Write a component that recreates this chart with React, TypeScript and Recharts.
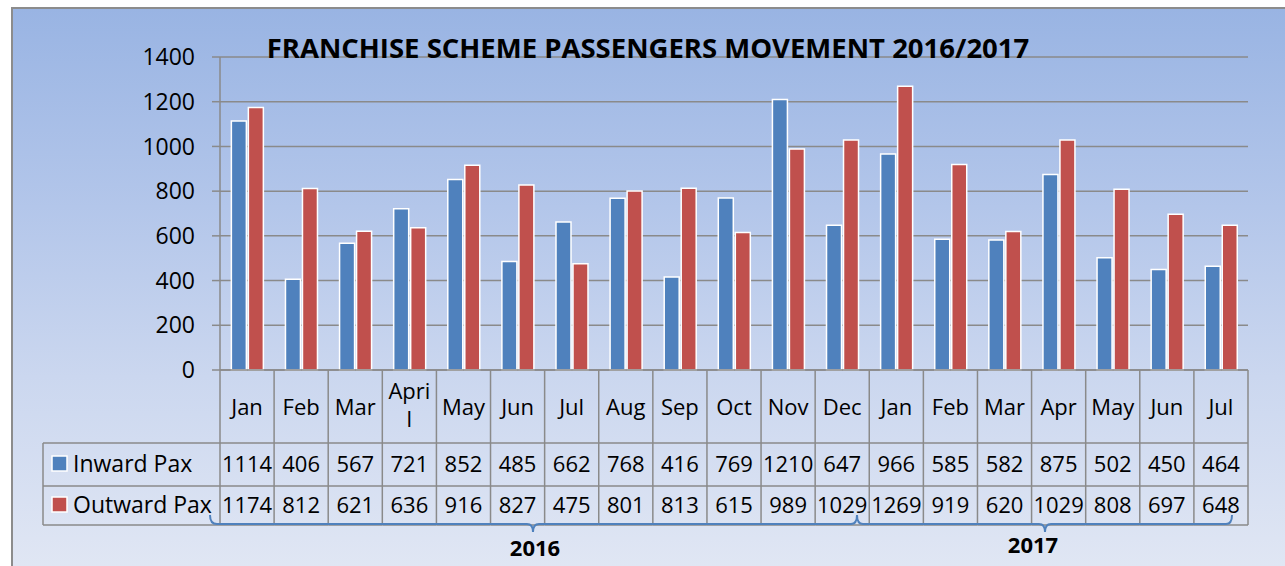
import React from "react"
import { BarChart, Bar, XAxis, YAxis, CartesianGrid } from "recharts"

// months shown under the bars (Jan 2016 .. Jul 2017)
const months = ["Jan", "Feb", "Mar", "April", "May", "Jun", "Jul", "Aug", "Sep", "Oct", "Nov", "Dec", "Jan", "Feb", "Mar", "Apr", "May", "Jun", "Jul"]
const inwardPax = [1114, 406, 567, 721, 852, 485, 662, 768, 416, 769, 1210, 647, 966, 585, 582, 875, 502, 450, 464]
const outwardPax = [1174, 812, 621, 636, 916, 827, 475, 801, 813, 615, 989, 1029, 1269, 919, 620, 1029, 808, 697, 648]
const yTicks = [0, 200, 400, 600, 800, 1000, 1200, 1400]
const seriesNames = ["Inward Pax", "Outward Pax"]
const yearLabels = ["2016", "2017"]

const data = months.map((m, i) => ({ key: `${m}-${i}`, month: m, inward: inwardPax[i], outward: outwardPax[i] }))

const W = 1285
const H = 566
const PLOT_LEFT = 220
const PLOT_RIGHT = 1248
const PLOT_TOP = 57
const PLOT_BOTTOM = 370
const ROW1 = 443
const ROW2 = 486
const TABLE_BOTTOM = 525
const COL_W = (PLOT_RIGHT - PLOT_LEFT) / months.length

const GRID = "#8a8a8a"
const BLUE = "#4f81bd"
const RED = "#c0504d"
const FONT = "'Open Sans', sans-serif"

const TableTick = (props: any) => {
  const { x, payload } = props
  const i = props.index ?? payload.index ?? 0
  const l = x - COL_W / 2
  const r = x + COL_W / 2
  const label = months[i]
  return (
    <g>
      {i === 0 && <line x1={l} x2={l} y1={PLOT_BOTTOM} y2={TABLE_BOTTOM} stroke={GRID} strokeWidth={1.5} />}
      <line x1={r} x2={r} y1={PLOT_BOTTOM} y2={TABLE_BOTTOM} stroke={GRID} strokeWidth={1.5} />
      <line x1={l} x2={r} y1={ROW1} y2={ROW1} stroke={GRID} strokeWidth={1.5} />
      <line x1={l} x2={r} y1={ROW2} y2={ROW2} stroke={GRID} strokeWidth={1.5} />
      <line x1={l} x2={r} y1={TABLE_BOTTOM} y2={TABLE_BOTTOM} stroke={GRID} strokeWidth={1.5} />
      {label === "April" ? (
        <text x={x} textAnchor="middle" fontSize={22} fontFamily={FONT} fill="#000">
          <tspan x={x} y={399}>Apri</tspan>
          <tspan x={x} y={427}>l</tspan>
        </text>
      ) : (
        <text x={x} y={415} textAnchor="middle" fontSize={22} fontFamily={FONT} fill="#000">
          {label}
        </text>
      )}
      <text x={x} y={472} textAnchor="middle" fontSize={22} fontFamily={FONT} fill="#000">
        {inwardPax[i]}
      </text>
      <text x={x} y={513} textAnchor="middle" fontSize={22} fontFamily={FONT} fill="#000">
        {outwardPax[i]}
      </text>
    </g>
  )
}

const App = () => {
  return (
    <div style={{ position: "absolute", left: 0, top: 0, width: W, height: H, background: "#fff", overflow: "hidden" }}>
      <div
        style={{
          position: "absolute",
          left: 11,
          top: 7,
          width: W,
          height: H,
          borderLeft: "2px solid #8c8c8c",
          borderTop: "2px solid #8c8c8c",
          background: "linear-gradient(to bottom, #99b4e3 0%, #b3c6ea 35%, #cbd7ef 65%, #e1e7f4 100%)",
        }}
      />
      <div style={{ position: "absolute", left: 0, top: 0 }}>
        <BarChart
          width={W}
          height={H}
          data={data}
          margin={{ top: PLOT_TOP, right: W - PLOT_RIGHT, bottom: H - PLOT_BOTTOM - 30, left: 0 }}
          barCategoryGap="21%"
          barGap={2}
        >
          <CartesianGrid vertical={false} stroke={GRID} strokeWidth={1.5} />
          <YAxis
            width={PLOT_LEFT}
            domain={[0, 1400]}
            ticks={yTicks}
            interval={0}
            axisLine={{ stroke: GRID, strokeWidth: 1.5 }}
            tickLine={{ stroke: GRID, strokeWidth: 1.5 }}
            tickSize={8}
            tickMargin={17}
            tick={{ fill: "#000", fontSize: 23, fontFamily: FONT }}
          />
          <XAxis
            dataKey="key"
            height={30}
            interval={0}
            axisLine={{ stroke: GRID, strokeWidth: 1.5 }}
            tickLine={false}
            tick={<TableTick />}
          />
          <Bar dataKey="inward" name={seriesNames[0]} fill={BLUE} stroke="#fff" strokeWidth={1.5} isAnimationActive={false} />
          <Bar dataKey="outward" name={seriesNames[1]} fill={RED} stroke="#fff" strokeWidth={1.5} isAnimationActive={false} />
        </BarChart>
      </div>
      <svg width={W} height={H} style={{ position: "absolute", left: 0, top: 0, pointerEvents: "none" }}>
        <text x={648} y={58} textAnchor="middle" fontSize={27.5} fontWeight={700} fontFamily={FONT} fill="#000">
          FRANCHISE SCHEME PASSENGERS MOVEMENT 2016/2017
        </text>
        {/* legend column of the data table */}
        <line x1={43} x2={43} y1={ROW1} y2={TABLE_BOTTOM} stroke={GRID} strokeWidth={1.5} />
        <line x1={43} x2={PLOT_LEFT} y1={ROW1} y2={ROW1} stroke={GRID} strokeWidth={1.5} />
        <line x1={43} x2={PLOT_LEFT} y1={ROW2} y2={ROW2} stroke={GRID} strokeWidth={1.5} />
        <line x1={43} x2={PLOT_LEFT} y1={TABLE_BOTTOM} y2={TABLE_BOTTOM} stroke={GRID} strokeWidth={1.5} />
        <rect x={52} y={456} width={15} height={15} fill={BLUE} stroke="#fff" strokeWidth={1.5} />
        <rect x={52} y={497} width={15} height={15} fill={RED} stroke="#fff" strokeWidth={1.5} />
        <text x={73} y={472} fontSize={23} fontFamily={FONT} fill="#000">{seriesNames[0]}</text>
        <text x={73} y={513} fontSize={23} fontFamily={FONT} fill="#000">{seriesNames[1]}</text>
        {/* year braces */}
        <path
          d="M210,515 Q210,524 217,524 L527,524 Q533,524 533,532 Q533,524 539,524 L851,524 Q857,524 857,515"
          fill="none"
          stroke={BLUE}
          strokeWidth={2}
        />
        <path
          d="M857,515 Q857,524 863,524 L1039,524 Q1045,524 1045,532 Q1045,524 1051,524 L1226,524 Q1232,524 1232,515"
          fill="none"
          stroke={BLUE}
          strokeWidth={2}
        />
        <text x={535} y={556} textAnchor="middle" fontSize={22} fontWeight={700} fontFamily={FONT} fill="#000">
          {yearLabels[0]}
        </text>
        <text x={1033} y={553} textAnchor="middle" fontSize={22} fontWeight={700} fontFamily={FONT} fill="#000">
          {yearLabels[1]}
        </text>
      </svg>
    </div>
  )
}

export default App
